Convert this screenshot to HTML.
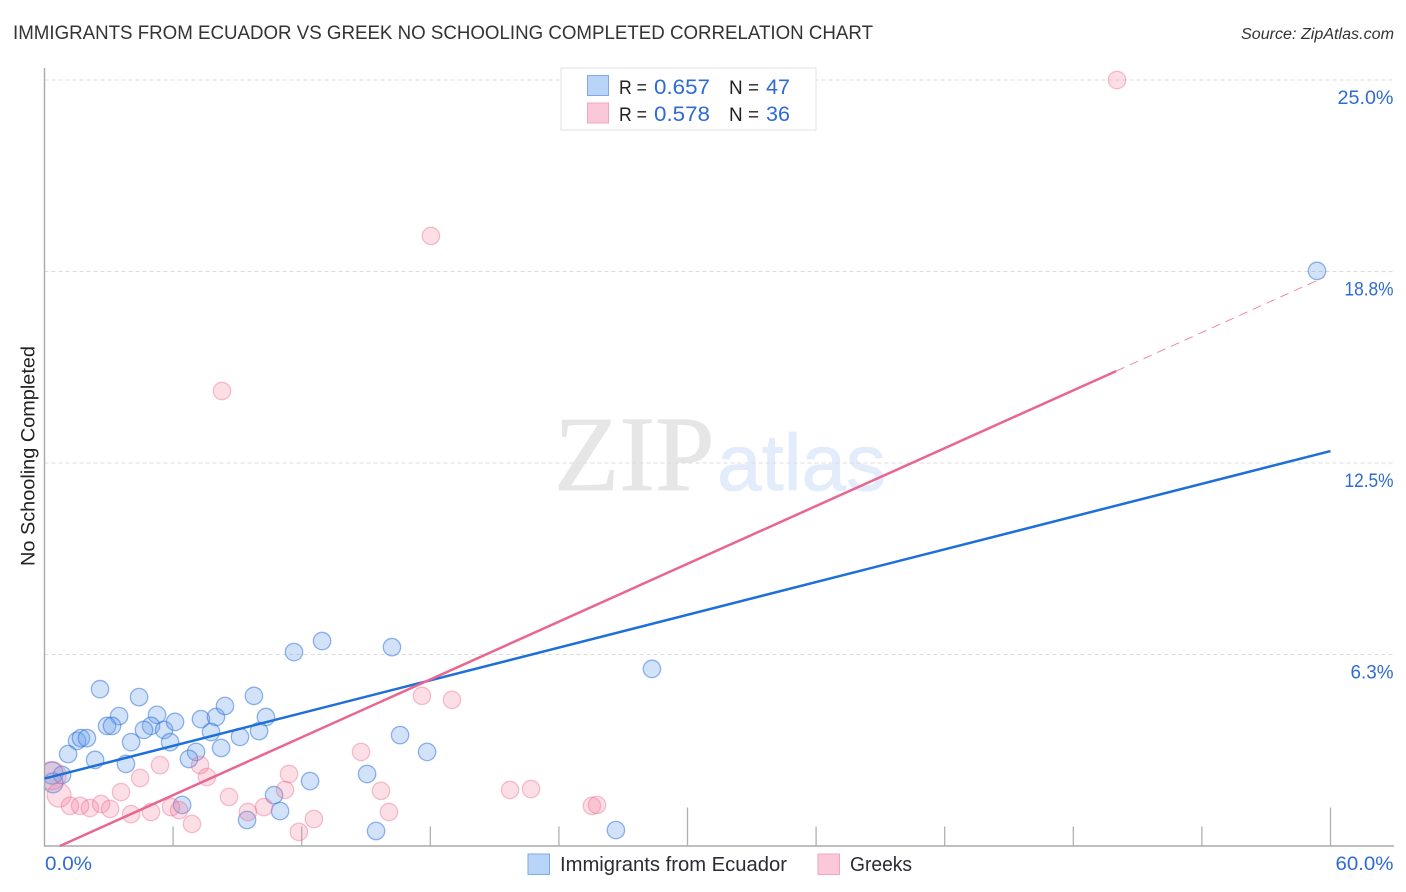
<!DOCTYPE html>
<html lang="en">
<head>
<meta charset="utf-8">
<title>Immigrants from Ecuador vs Greek No Schooling Completed Correlation Chart</title>
<style>
html,body{margin:0;padding:0;background:#fff;width:1406px;height:892px;overflow:hidden}
svg{display:block;font-family:"Liberation Sans",Arial,sans-serif}
</style>
</head>
<body>
<svg id="chart" width="1406" height="892" viewBox="0 0 1406 892" xmlns="http://www.w3.org/2000/svg">
  <defs>
    <clipPath id="plot-clip"><rect x="45" y="60" width="1350" height="786"/></clipPath>
  </defs>
  <rect x="0" y="0" width="1406" height="892" fill="#ffffff"/>
  <text x="13" y="39" font-size="19" fill="#333333" textLength="860" lengthAdjust="spacingAndGlyphs">IMMIGRANTS FROM ECUADOR VS GREEK NO SCHOOLING COMPLETED CORRELATION CHART</text>
  <text x="1241" y="39" font-size="15.5" font-style="italic" fill="#333" textLength="153" lengthAdjust="spacingAndGlyphs">Source: ZipAtlas.com</text>

  <g>
    <text x="554" y="490" font-family="'Liberation Serif',serif" font-size="107" fill="#e6e6e6" stroke="#e6e6e6" stroke-width="0.8">ZIP</text>
    <text x="717" y="490" font-size="80" fill="#e3ecfa" stroke="#e3ecfa" stroke-width="0.8">atlas</text>
  </g>

  <g id="grid"></g>
  <g id="axes"></g>
  <g id="points-blue" clip-path="url(#plot-clip)"></g>
  <g id="points-pink" clip-path="url(#plot-clip)"></g>
  <g id="trends"></g>
  <g id="labels"></g>

  <text transform="translate(34.5,566) rotate(-90)" font-size="19.5" fill="#222" textLength="220" lengthAdjust="spacingAndGlyphs">No Schooling Completed</text>

  <g>
    <rect x="561" y="68" width="255" height="62" fill="#ffffff" stroke="#e2e2e2" stroke-width="1"/>
    <rect x="587.5" y="75.5" width="21" height="20" fill="#b8d4f7" stroke="#7faae4"/>
    <text x="619" y="94" font-size="19.5" fill="#222" textLength="28" lengthAdjust="spacingAndGlyphs">R =</text>
    <text x="654" y="94" font-size="21" fill="#2f6bd0" textLength="56" lengthAdjust="spacingAndGlyphs">0.657</text>
    <text x="729" y="94" font-size="19.5" fill="#222" textLength="30" lengthAdjust="spacingAndGlyphs">N =</text>
    <text x="766" y="94" font-size="21" fill="#2f6bd0" textLength="24" lengthAdjust="spacingAndGlyphs">47</text>
    <rect x="587.5" y="103" width="21" height="20" fill="#fbc8d9" stroke="#f3a5bf"/>
    <text x="619" y="121" font-size="19.5" fill="#222" textLength="28" lengthAdjust="spacingAndGlyphs">R =</text>
    <text x="654" y="121" font-size="21" fill="#2f6bd0" textLength="56" lengthAdjust="spacingAndGlyphs">0.578</text>
    <text x="729" y="121" font-size="19.5" fill="#222" textLength="30" lengthAdjust="spacingAndGlyphs">N =</text>
    <text x="766" y="121" font-size="21" fill="#2f6bd0" textLength="24" lengthAdjust="spacingAndGlyphs">36</text>
  </g>

  <g>
    <rect x="528" y="854" width="21.5" height="20.5" fill="#b8d4f7" stroke="#7faae4"/>
    <text x="560" y="871" font-size="20" fill="#2b2b33" textLength="227" lengthAdjust="spacingAndGlyphs">Immigrants from Ecuador</text>
    <rect x="818" y="854" width="21.5" height="20.5" fill="#fbc8d9" stroke="#f3a5bf"/>
    <text x="850" y="871" font-size="20" fill="#2b2b33" textLength="62" lengthAdjust="spacingAndGlyphs">Greeks</text>
  </g>
</svg>
<script>
const yTickValues = [6.25, 12.5, 18.75, 25];
const yTickLabels = ["6.3%", "12.5%", "18.8%", "25.0%"];
const xTickValues = [6, 12, 18, 24, 30, 36, 42, 48, 54, 60];
const xMajorEvery = 30;
const xEndLabels = ["0.0%", "60.0%"];

const ecuadorX = [2.59,4.41,3.48,2.92,3.15,1.52,1.70,1.98,1.10,2.36,4.04,3.80,5.25,4.97,4.64,5.58,6.09,5.86,7.30,8.00,8.42,9.77,10.33,10.01,7.77,9.12,8.24,7.07,6.74,11.64,12.95,6.42,10.71,10.99,9.45,12.39,0.35,0.82,0.40,16.21,28.34,16.59,17.85,15.05,15.47,26.66,59.37];
const ecuadorY = [5.12,4.86,4.24,3.92,3.92,3.43,3.52,3.52,3.00,2.81,3.39,2.68,4.28,3.92,3.79,3.79,4.05,3.39,4.14,4.21,4.57,4.90,4.21,3.75,3.72,3.56,3.20,3.07,2.84,6.33,6.69,1.34,1.66,1.14,0.85,2.12,2.38,2.32,2.06,6.49,5.78,3.62,3.07,2.35,0.49,0.52,18.77];
const ecuadorWeight = [1,1,1,1,1,1,1,1,1,1,1,1,1,1,1,1,1,1,1,1,1,1,1,1,1,1,1,1,1,1,1,1,1,1,1,1,1.6,1,1.3,1,1,1,1,1,1,1,1];

const greeksX = [0.68,0.35,1.19,1.66,2.12,2.64,3.06,3.57,4.46,5.39,4.04,4.97,5.90,6.28,6.88,7.26,7.58,8.61,9.49,10.24,11.22,11.41,11.87,12.57,17.61,19.01,14.77,15.70,16.07,21.72,22.70,25.54,25.78,50.04,18.03,8.28];
const greeksY = [1.66,2.30,1.31,1.31,1.24,1.37,1.21,1.76,2.22,2.64,1.04,1.11,1.27,1.17,0.72,2.64,2.25,1.60,1.11,1.27,1.83,2.35,0.46,0.88,4.90,4.77,3.07,1.80,1.11,1.83,1.86,1.31,1.34,25.00,19.91,14.85];
const greeksWeight = [1.9,2.6,1,1,1,1,1,1,1,1,1,1,1,1,1,1,1,1,1,1,1,1,1,1,1,1,1,1,1,1,1,1,1,1,1,1];

const ecuadorTrendX = [0, 60];
const ecuadorTrendY = [2.2, 12.89];
const greeksTrendX = [0.72, 50];
const greeksTrendY = [0, 15.5];
const greeksExtensionX = [50, 59.7];
const greeksExtensionY = [15.5, 18.56];

const NS = 'http://www.w3.org/2000/svg';
const xScale = function (v) { return 44.5 + v * (1286 / 60); };
const yScale = function (v) { return 846 - v * (766 / 25); };
const radius = function (w) { return 8.7 * Math.sqrt(w); };

/* Reference numerals have a wide round 0 and a narrow 1; fit each label to that width. */
function labelWidth(s) {
  let w = 0;
  for (const c of s) {
    w += c === '0' ? 13 : c === '1' ? 6 : c === '.' ? 5 : c === '%' ? 16 : 11;
  }
  return w;
}

function make(tag, parentId, attrs) {
  const el = document.createElementNS(NS, tag);
  Object.keys(attrs).forEach(function (k) { el.setAttribute(k, attrs[k]); });
  document.getElementById(parentId).appendChild(el);
  return el;
}

yTickValues.forEach(function (v, i) {
  const line = make('line', 'grid', {
    x1: 44.5, x2: 1394, y1: yScale(v), y2: yScale(v),
    stroke: '#dcdcdc', 'stroke-width': 1, 'stroke-dasharray': '4 3'
  });
  
  

  const w = labelWidth(yTickLabels[i]);
  const label = make('text', 'labels', {
    x: 1393.5 - w, y: yScale(v) + 24, 'font-size': 19.5, fill: '#2f6bd0',
    textLength: w, lengthAdjust: 'spacingAndGlyphs'
  });
  label.textContent = yTickLabels[i];
  
  
});

const yAxis = make('line', 'axes', { x1: 44.5, x2: 44.5, y1: 68, y2: 846.5, stroke: '#aaaaaa', 'stroke-width': 1.4 });



const xAxis = make('line', 'axes', { x1: 44, x2: 1394, y1: 846, y2: 846, stroke: '#aaaaaa', 'stroke-width': 1.4 });



xTickValues.forEach(function (v) {
  const tall = v % xMajorEvery === 0;
  const tick = make('line', 'axes', {
    x1: xScale(v), x2: xScale(v), y1: tall ? 807.5 : 826.5, y2: 846,
    stroke: '#b0b0b0', 'stroke-width': 1.3
  });
  
  
});

const xLabelLeft = make('text', 'labels', {
  x: 45, y: 870, 'font-size': 19.5, fill: '#2f6bd0',
  textLength: labelWidth(xEndLabels[0]), lengthAdjust: 'spacingAndGlyphs'
});
xLabelLeft.textContent = xEndLabels[0];



const xLabelRight = make('text', 'labels', {
  x: 1393.5 - labelWidth(xEndLabels[1]), y: 870, 'font-size': 19.5, fill: '#2f6bd0',
  textLength: labelWidth(xEndLabels[1]), lengthAdjust: 'spacingAndGlyphs'
});
xLabelRight.textContent = xEndLabels[1];



ecuadorX.forEach(function (v, i) {
  const dot = make('circle', 'points-blue', {
    cx: xScale(v), cy: yScale(ecuadorY[i]), r: radius(ecuadorWeight[i]),
    fill: 'rgba(105,160,235,0.3)', stroke: 'rgba(40,110,215,0.5)', 'stroke-width': 1.3
  });
  
  
});

greeksX.forEach(function (v, i) {
  const dot = make('circle', 'points-pink', {
    cx: xScale(v), cy: yScale(greeksY[i]), r: radius(greeksWeight[i]),
    fill: 'rgba(242,125,155,0.25)', stroke: 'rgba(232,100,135,0.38)', 'stroke-width': 1.3
  });
  
  
});

const ecuadorTrend = make('line', 'trends', {
  x1: xScale(ecuadorTrendX[0]), y1: yScale(ecuadorTrendY[0]),
  x2: xScale(ecuadorTrendX[1]), y2: yScale(ecuadorTrendY[1]),
  stroke: '#1f6fd9', 'stroke-width': 2.5
});



const greeksTrend = make('line', 'trends', {
  x1: xScale(greeksTrendX[0]), y1: yScale(greeksTrendY[0]),
  x2: xScale(greeksTrendX[1]), y2: yScale(greeksTrendY[1]),
  stroke: '#e8668f', 'stroke-width': 2.5
});



const greeksExtension = make('line', 'trends', {
  x1: xScale(greeksExtensionX[0]), y1: yScale(greeksExtensionY[0]),
  x2: xScale(greeksExtensionX[1]), y2: yScale(greeksExtensionY[1]),
  stroke: '#ec8aa9', 'stroke-width': 1, 'stroke-dasharray': '9 6'
});


</script>
</body>
</html>
